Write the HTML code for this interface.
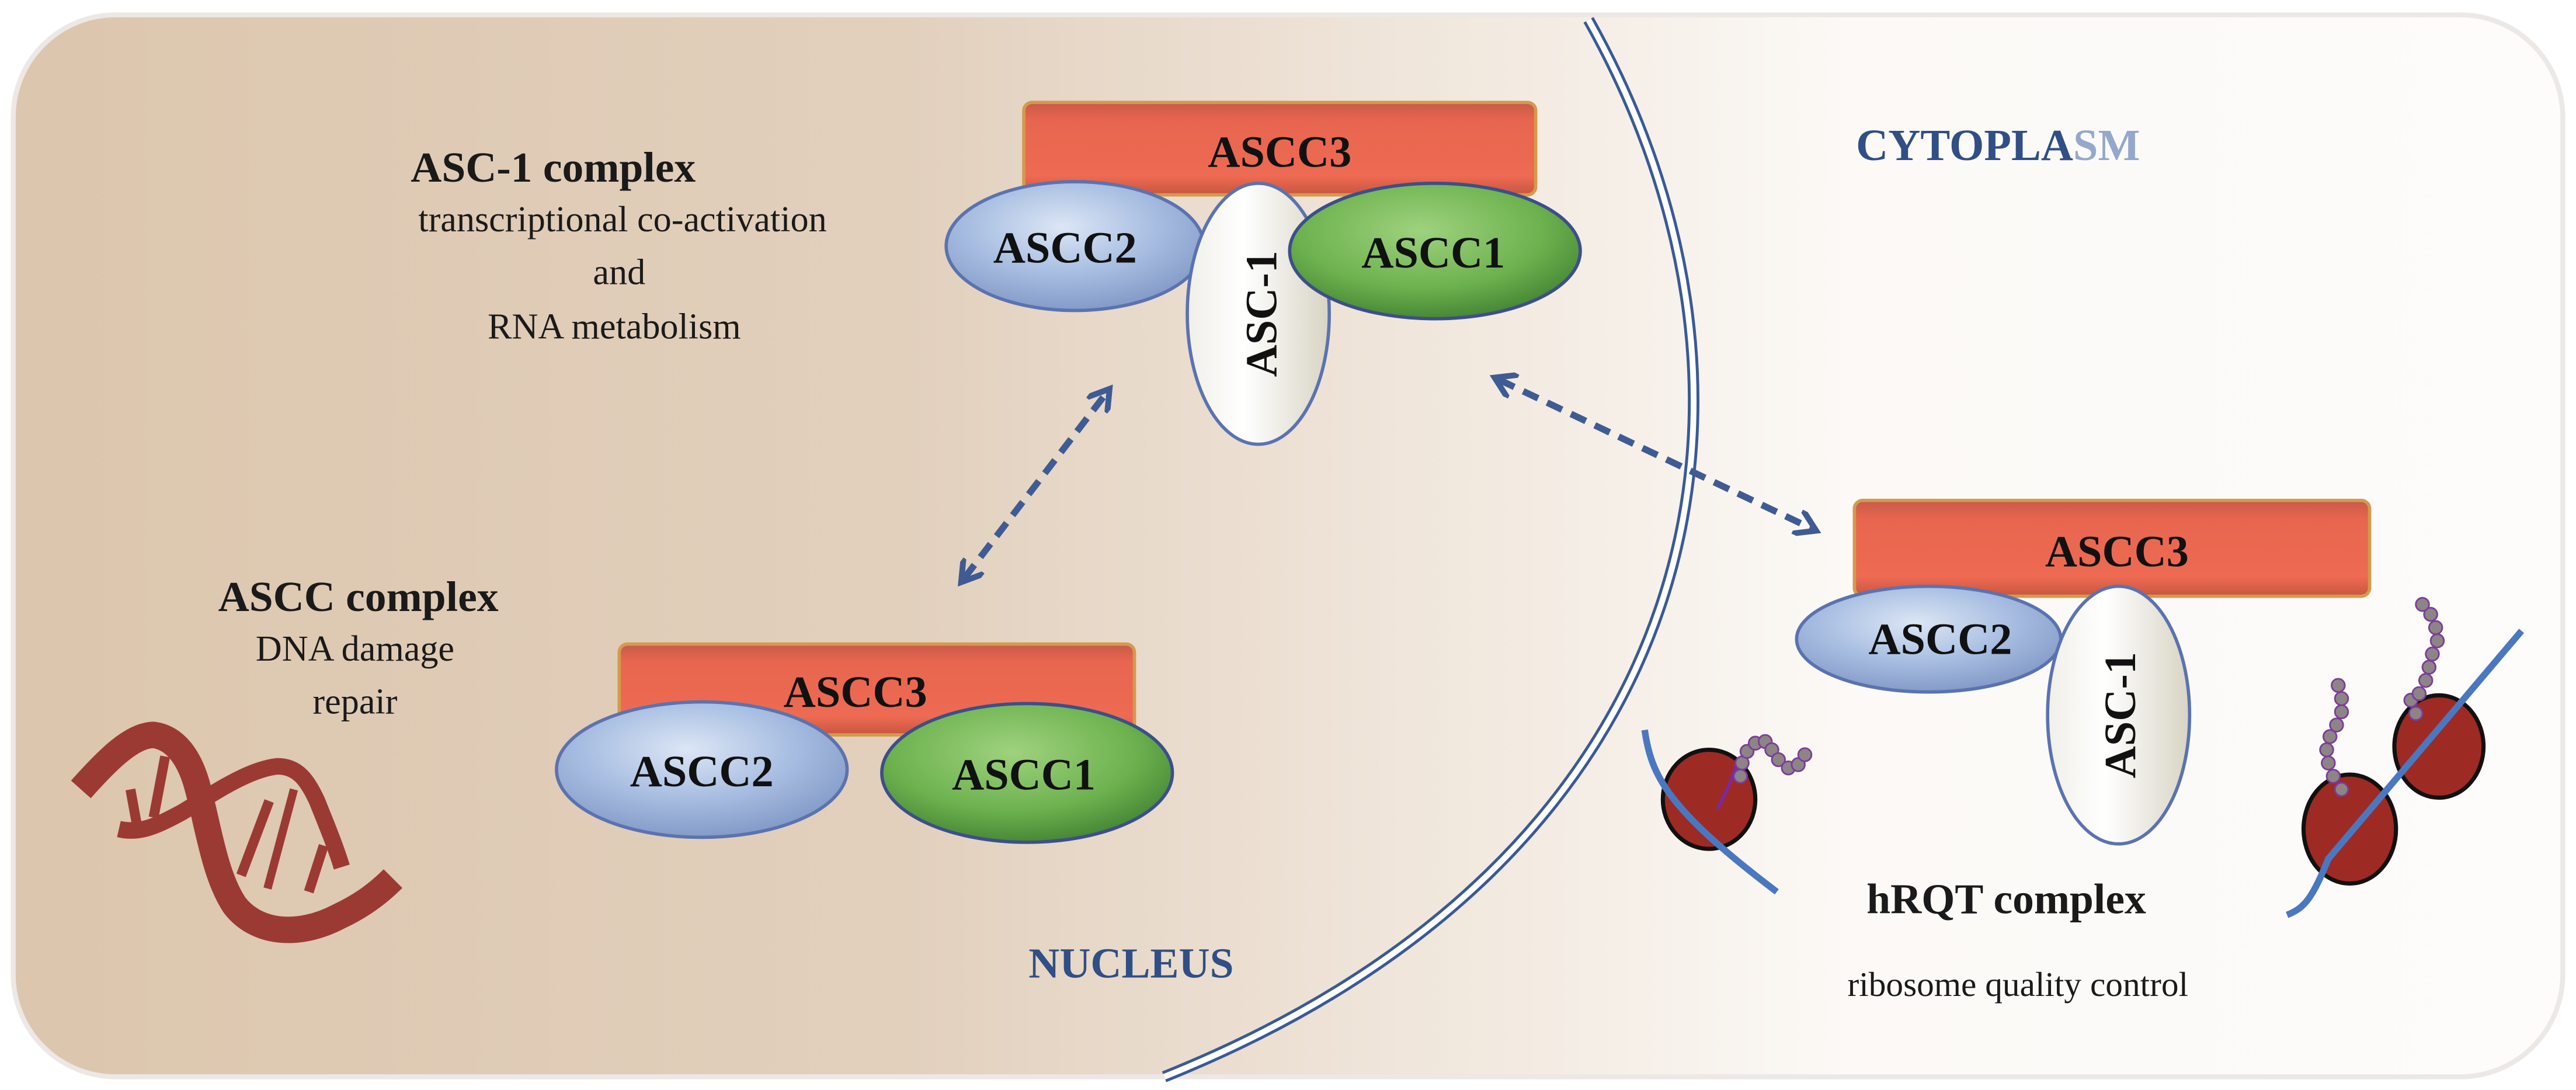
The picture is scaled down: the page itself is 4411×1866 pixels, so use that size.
<!DOCTYPE html>
<html><head><meta charset="utf-8"><style>
html,body{margin:0;padding:0;background:#fff;}
svg{display:block;}
svg text{font-family:"Liberation Serif",serif;}
</style></head><body>
<svg width="4411" height="1866" viewBox="0 0 1560 660" preserveAspectRatio="none" xmlns="http://www.w3.org/2000/svg" font-family="Liberation Serif, serif">
<defs>
<linearGradient id="bg" x1="0" x2="1" y1="0" y2="0">
<stop offset="0" stop-color="#dcc6ad"/>
<stop offset="0.35" stop-color="#e2d0bd"/>
<stop offset="0.62" stop-color="#f5eee6"/>
<stop offset="0.72" stop-color="#fcf9f6"/>
<stop offset="1" stop-color="#fdfcfb"/>
</linearGradient>
<linearGradient id="red" x1="0" x2="0" y1="0" y2="1">
<stop offset="0" stop-color="#c85a48"/><stop offset="0.2" stop-color="#e8664f"/><stop offset="0.8" stop-color="#ee6a52"/><stop offset="1" stop-color="#c8553f"/>
</linearGradient>
<radialGradient id="blue" cx="0.45" cy="0.35" r="0.7">
<stop offset="0" stop-color="#dce6f5"/><stop offset="0.5" stop-color="#a9bfe2"/><stop offset="1" stop-color="#7e95c4"/>
</radialGradient>
<radialGradient id="green" cx="0.45" cy="0.35" r="0.7">
<stop offset="0" stop-color="#9fd27e"/><stop offset="0.6" stop-color="#6db24f"/><stop offset="1" stop-color="#3f7f30"/>
</radialGradient>
<linearGradient id="white" x1="0" x2="1" y1="0" y2="0">
<stop offset="0" stop-color="#f0efe8"/><stop offset="0.4" stop-color="#ffffff"/><stop offset="1" stop-color="#d8d4c4"/>
</linearGradient>
<marker id="ah" viewBox="0 0 10 10" refX="6" refY="5" markerWidth="4" markerHeight="4" orient="auto-start-reverse">
<path d="M0 0 L8 5 L0 10" fill="none" stroke="#3e5b94" stroke-width="2.2"/>
</marker>
</defs>
<rect x="0" y="0" width="1560" height="660" fill="#fff"/>
<rect x="8" y="9" width="1544" height="643" rx="62" fill="url(#bg)" stroke="#ece8e6" stroke-width="3"/>

<path d="M962 12 C1090 240 1035 520 705 652" fill="none" stroke="#3a5a95" stroke-width="7"/>
<path d="M962 12 C1090 240 1035 520 705 652" fill="none" stroke="#ffffff" stroke-width="3.5"/>

<text x="335" y="110" text-anchor="middle" font-size="26" font-weight="bold" fill="#1a1a1a" font-family="Liberation Serif, serif">ASC-1 complex</text>
<text x="377" y="140" text-anchor="middle" font-size="22" fill="#1a1a1a" font-family="Liberation Serif, serif">transcriptional co-activation</text>
<text x="375" y="172" text-anchor="middle" font-size="22" fill="#1a1a1a" font-family="Liberation Serif, serif">and</text>
<text x="372" y="205" text-anchor="middle" font-size="22" fill="#1a1a1a" font-family="Liberation Serif, serif">RNA metabolism</text>
<text x="217" y="370" text-anchor="middle" font-size="26" font-weight="bold" fill="#1a1a1a" font-family="Liberation Serif, serif">ASCC complex</text>
<text x="215" y="400" text-anchor="middle" font-size="22" fill="#1a1a1a" font-family="Liberation Serif, serif">DNA damage</text>
<text x="215" y="432" text-anchor="middle" font-size="22" fill="#1a1a1a" font-family="Liberation Serif, serif">repair</text>
<text x="1210" y="97" text-anchor="middle" font-size="27" font-weight="bold" fill="#2f4f86" font-family="Liberation Serif, serif">CYTOPLA<tspan fill="#93a8cc">SM</tspan></text>
<text x="685" y="592" text-anchor="middle" font-size="26" font-weight="bold" fill="#2f4f86" font-family="Liberation Serif, serif">NUCLEUS</text>
<text x="1215" y="553" text-anchor="middle" font-size="26" font-weight="bold" fill="#1a1a1a" font-family="Liberation Serif, serif">hRQT complex</text>
<text x="1222" y="603" text-anchor="middle" font-size="21" fill="#1a1a1a" font-family="Liberation Serif, serif">ribosome quality control</text>

<line x1="584" y1="350" x2="670" y2="238" stroke="#3e5b94" stroke-width="4" stroke-dasharray="10 6" marker-start="url(#ah)" marker-end="url(#ah)"/>
<line x1="908" y1="230" x2="1097" y2="320" stroke="#3e5b94" stroke-width="4" stroke-dasharray="10 6" marker-start="url(#ah)" marker-end="url(#ah)"/>

<rect x="620" y="62" width="310" height="56" rx="5" fill="url(#red)" stroke="#d49a4c" stroke-width="2"/>
<text x="775" y="101" text-anchor="middle" font-size="27" font-weight="bold" fill="#111" font-family="Liberation Serif, serif">ASCC3</text>
<ellipse cx="651" cy="149" rx="78" ry="39" fill="url(#blue)" stroke="#5a73b0" stroke-width="2"/>
<text x="645" y="159" text-anchor="middle" font-size="27" font-weight="bold" fill="#111" font-family="Liberation Serif, serif">ASCC2</text>
<ellipse cx="762" cy="190" rx="43" ry="79" fill="url(#white)" stroke="#5a73b0" stroke-width="2"/>
<text transform="translate(773,190) rotate(-90)" text-anchor="middle" font-size="27" font-weight="bold" fill="#111" font-family="Liberation Serif, serif">ASC-1</text>
<ellipse cx="869" cy="152" rx="88" ry="41" fill="url(#green)" stroke="#3c4f8a" stroke-width="2"/>
<text x="868" y="162" text-anchor="middle" font-size="27" font-weight="bold" fill="#111" font-family="Liberation Serif, serif">ASCC1</text>

<rect x="375" y="390" width="312" height="55" rx="5" fill="url(#red)" stroke="#d49a4c" stroke-width="2"/>
<text x="518" y="428" text-anchor="middle" font-size="27" font-weight="bold" fill="#111" font-family="Liberation Serif, serif">ASCC3</text>
<ellipse cx="425" cy="466" rx="88" ry="41" fill="url(#blue)" stroke="#5a73b0" stroke-width="2"/>
<text x="425" y="476" text-anchor="middle" font-size="27" font-weight="bold" fill="#111" font-family="Liberation Serif, serif">ASCC2</text>
<ellipse cx="622" cy="468" rx="88" ry="42" fill="url(#green)" stroke="#3c4f8a" stroke-width="2"/>
<text x="620" y="478" text-anchor="middle" font-size="27" font-weight="bold" fill="#111" font-family="Liberation Serif, serif">ASCC1</text>

<rect x="1123" y="303" width="312" height="58" rx="5" fill="url(#red)" stroke="#d49a4c" stroke-width="2"/>
<text x="1282" y="343" text-anchor="middle" font-size="27" font-weight="bold" fill="#111" font-family="Liberation Serif, serif">ASCC3</text>
<ellipse cx="1168" cy="387" rx="80" ry="32" fill="url(#blue)" stroke="#5a73b0" stroke-width="2"/>
<text x="1175" y="396" text-anchor="middle" font-size="27" font-weight="bold" fill="#111" font-family="Liberation Serif, serif">ASCC2</text>
<ellipse cx="1283" cy="433" rx="43" ry="78" fill="url(#white)" stroke="#5a73b0" stroke-width="2"/>
<text transform="translate(1293,433) rotate(-90)" text-anchor="middle" font-size="27" font-weight="bold" fill="#111" font-family="Liberation Serif, serif">ASC-1</text>

<g fill="none" stroke="#9b3a33" stroke-linecap="butt">
<path d="M49 478 C65 460 80 445 93 445 C108 447 116 462 120 478 C126 500 130 530 142 548 C155 565 180 568 205 555 C220 548 230 540 238 532" stroke-width="16"/>
<path d="M72 502 C85 505 95 500 110 492 C130 480 150 466 168 464 C180 464 186 472 192 485 C198 500 203 512 207 525" stroke-width="10"/>
<path d="M79 478 L83 500" stroke-width="6"/>
<path d="M100 458 L93 495" stroke-width="6"/>
<path d="M163 485 L146 530" stroke-width="6"/>
<path d="M178 478 L162 538" stroke-width="5"/>
<path d="M196 512 L187 540" stroke-width="6"/>
</g>

<ellipse cx="1035" cy="484" rx="28" ry="30" fill="#9e2a24" stroke="#111" stroke-width="2.5"/>
<path d="M996 442 C1000 470 1010 490 1076 540" fill="none" stroke="#4a78c0" stroke-width="4"/>
<path d="M1040 490 C1045 480 1050 470 1052 460" fill="none" stroke="#7a2aa0" stroke-width="2"/>
<g fill="#8d8585" stroke="#7c3c9c" stroke-width="1">
<circle cx="1054" cy="470" r="4"/><circle cx="1055" cy="462" r="4"/><circle cx="1058" cy="455" r="4"/><circle cx="1063" cy="450" r="4"/><circle cx="1069" cy="449" r="4"/><circle cx="1073" cy="454" r="4"/><circle cx="1077" cy="460" r="4"/><circle cx="1083" cy="465" r="4"/><circle cx="1089" cy="463" r="4"/><circle cx="1093" cy="457" r="4"/>
</g>
<ellipse cx="1477" cy="452" rx="27" ry="31" fill="#9e2a24" stroke="#111" stroke-width="2.5"/>
<ellipse cx="1423" cy="502" rx="28" ry="33" fill="#9e2a24" stroke="#111" stroke-width="2.5"/>
<path d="M1385 554 C1395 550 1400 545 1410 520 L1527 382" fill="none" stroke="#4a78c0" stroke-width="4"/>
<g fill="#8d8585" stroke="#7c3c9c" stroke-width="1">
<circle cx="1469" cy="412" r="4"/><circle cx="1471" cy="404" r="4"/><circle cx="1473" cy="396" r="4"/><circle cx="1476" cy="388" r="4"/><circle cx="1475" cy="380" r="4"/><circle cx="1472" cy="372" r="4"/><circle cx="1467" cy="366" r="4"/><circle cx="1463" cy="432" r="4"/><circle cx="1460" cy="424" r="4"/><circle cx="1465" cy="420" r="4"/>
<circle cx="1413" cy="470" r="4"/><circle cx="1410" cy="462" r="4"/><circle cx="1409" cy="454" r="4"/><circle cx="1411" cy="446" r="4"/><circle cx="1415" cy="439" r="4"/><circle cx="1418" cy="431" r="4"/><circle cx="1418" cy="423" r="4"/><circle cx="1416" cy="415" r="4"/><circle cx="1418" cy="478" r="4"/>
</g>
</svg>
</body></html>
